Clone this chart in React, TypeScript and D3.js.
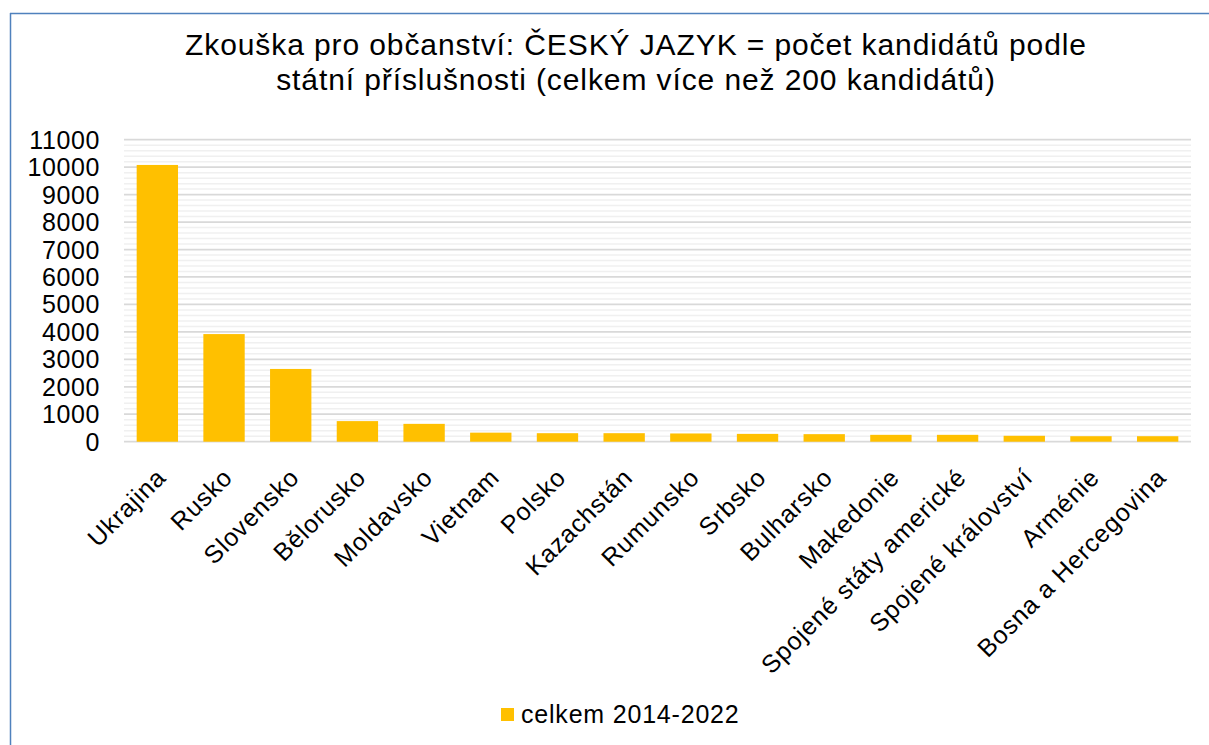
import React from "react";
import * as d3 from "d3";

const categories = [
  "Ukrajina", "Rusko", "Slovensko", "Bělorusko", "Moldavsko", "Vietnam", "Polsko", "Kazachstán",
  "Rumunsko", "Srbsko", "Bulharsko", "Makedonie", "Spojené státy americké", "Spojené království",
  "Arménie", "Bosna a Hercegovina",
];
const values = [10080, 3920, 2650, 750, 650, 330, 310, 310, 300, 285, 275, 250, 250, 215, 200, 200];
const yTicks = [0, 1000, 2000, 3000, 4000, 5000, 6000, 7000, 8000, 9000, 10000, 11000];
const minorTicks = d3.range(0, 11001, 200);
const seriesName = "celkem 2014-2022";
const titleLines = [
  "Zkouška pro občanství: ČESKÝ JAZYK = počet kandidátů podle",
  "státní příslušnosti (celkem více než 200 kandidátů)",
];

const W = 1209, H = 745;
const plot = { left: 124, right: 1191, top: 139.7, bottom: 441.7 };
const FONT = "'Liberation Sans', Arial, sans-serif";

export default function App() {
  const x = d3.scaleBand<string>().domain(categories).range([plot.left, plot.right]).paddingInner(0.38).paddingOuter(0.19);
  const y = d3.scaleLinear().domain([0, 11000]).range([plot.bottom, plot.top]);
  return (
    <svg width={W} height={H} style={{ position: "absolute", left: 0, top: 0, background: "#fff" }} fontFamily={FONT}>
      <rect x={0} y={0} width={W} height={H} fill="#fff" />
      <line x1={10.5} y1={13} x2={10.5} y2={H} stroke="#4f81bd" strokeWidth={1.5} />
      <line x1={10} y1={13.5} x2={W} y2={13.5} stroke="#4f81bd" strokeWidth={1.5} />
      {titleLines.map((t, i) => (
        <text key={i} x={636} y={55 + i * 35} textAnchor="middle" fontSize={30} letterSpacing={0.9} fill="#000">{t}</text>
      ))}
      {minorTicks.filter((v) => v % 1000 !== 0).map((v) => (
        <line key={"m" + v} x1={plot.left} x2={plot.right} y1={y(v)} y2={y(v)} stroke="#f0f0f0" strokeWidth={1.5} />
      ))}
      {yTicks.map((v) => (
        <text key={"t" + v} x={100} y={y(v)} dy="0.36em" textAnchor="end" fontSize={25} letterSpacing={0.6} fill="#000">{v}</text>
      ))}
      {yTicks.map((v) => (
        <line key={"g" + v} x1={plot.left} x2={plot.right} y1={y(v)} y2={y(v)} stroke="#d9d9d9" strokeWidth={1.75} />
      ))}
      {categories.map((c, i) => (
        <rect key={c} x={x(c)} y={y(values[i])} width={x.bandwidth()} height={y(0) - y(values[i])} fill="#ffc000" />
      ))}
      {categories.map((c) => {
        const cx = (x(c) as number) + x.bandwidth() / 2;
        return (
          <text key={"l" + c} transform={`translate(${cx + 10},${479}) rotate(-45)`} textAnchor="end" fontSize={25} letterSpacing={0.8} fill="#000">{c}</text>
        );
      })}
      <rect x={501} y={708} width={13} height={13} fill="#ffc000" />
      <text x={521} y={723} fontSize={25} letterSpacing={0.8} fill="#000">{seriesName}</text>
    </svg>
  );
}
